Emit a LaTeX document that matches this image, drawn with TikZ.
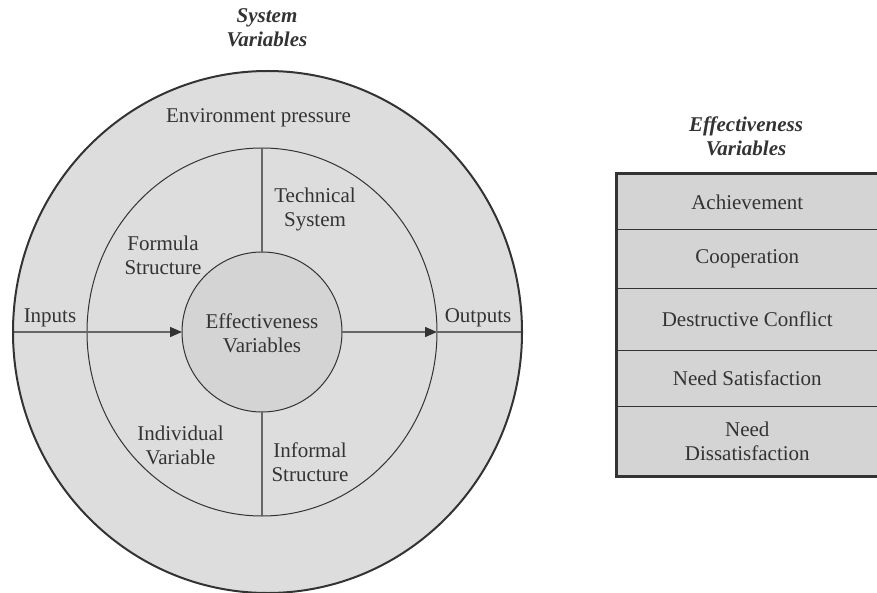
\documentclass[tikz,border=0pt]{standalone}
\usepackage{fontspec}
\setmainfont{Liberation Serif}
\usetikzlibrary{shapes.geometric}
\usetikzlibrary{arrows.meta}
\definecolor{ringgray}{gray}{0.865}
\definecolor{coregray}{gray}{0.83}
\definecolor{rowgray}{gray}{0.83}
\definecolor{inkgray}{gray}{0.2}
\definecolor{wiregray}{gray}{0.4}
\tikzset{ring/.style = {ellipse, draw=inkgray, fill=ringgray, inner sep = 0, outer sep = 0}}
\tikzset{wire/.style = {draw=wiregray, line width = 0.7pt}}
\tikzset{flow/.style = {wire, -{Triangle[length=6pt, width=5pt, color=inkgray]}}}
\tikzset{txt/.style = {text=inkgray, align=center, inner sep = 0}}
\tikzset{headtxt/.style = {txt, font=\fontsize{10.5}{12}\selectfont\bfseries\itshape}}
\tikzset{row/.style = {draw=inkgray, fill=rowgray, line width = 0.5pt, minimum width = 130.75pt,
                       inner sep = 0, outer sep = 0, text=inkgray, align=center}}

\begin{document}
\begin{tikzpicture}[x=0.5pt, y=-0.5pt, font=\fontsize{10.5}{12}\selectfont]
    \useasboundingbox (0, 0) rectangle (877, 593);

    % the three rings
    \node [ring, draw=none, minimum width=254.5pt, minimum height=261pt] (outer) at (267.5, 332) {};
    \node [ring, line width=0.5pt, minimum width=175pt, minimum height=184pt] (middle) at (262, 332) {};
    \node [ring, fill=coregray, line width=0.5pt, minimum width=80pt, minimum height=80pt] (core) at (262, 332) {};

    \draw [flow] (outer.west) -- (core.west);
    \draw [flow] (core.east) -- (middle.east);
    \draw [wire] (middle.east) -- (outer.east);
    \draw [wire] (middle.north) -- (core.north);
    \draw [wire] (core.south) -- (middle.south);
    \draw [draw=inkgray, line width=1pt] (outer.center) ellipse [x radius=127.25pt, y radius=130.5pt];

    \node [headtxt] (systitle) at (267, 28) {System\\Variables};
    \node [txt] (env) at (258.5, 118) {Environment pressure};
    \node [txt] (tech) at (315, 209.5) {Technical\\System};
    \node [txt] (formula) at (163, 255.5) {Formula\\Structure};
    \node [txt] (inputs) at (50, 318) {Inputs};
    \node [txt] (outputs) at (478, 318) {Outputs};
    \node [txt] (corename) at (262, 333) {Effectiveness\\Variables};
    \node [txt] (indiv) at (180.5, 445) {Individual\\Variable};
    \node [txt] (informal) at (310, 462.5) {Informal\\Structure};

    % effectiveness table
    \node [headtxt] (efftitle) at (746, 136) {Effectiveness\\Variables};
    \node [row, minimum height=28pt] (achieve) at (747.25, 202) {Achievement};
    \node [row, minimum height=29pt] (coop) at (747.25, 259) {Cooperation};
    \node [row, minimum height=31pt] (conflict) at (747.25, 319) {Destructive Conflict};
    \node [row, minimum height=28pt] (satisf) at (747.25, 378) {Need Satisfaction};
    \node [row, minimum height=35pt] (dissatisf) at (747.25, 441) {Need\\Dissatisfaction};
    \draw [draw=inkgray, line width=1.5pt] (achieve.north west) rectangle (dissatisf.south east);
\end{tikzpicture}
\end{document}
